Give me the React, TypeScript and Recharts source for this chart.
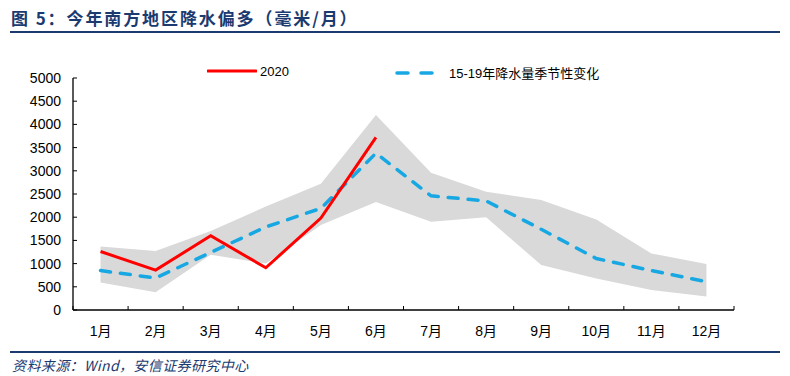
import React from "react";
import {
    ComposedChart,
    XAxis,
    YAxis,
    Area,
    Line,
} from "recharts";

const months = ["1月", "2月", "3月", "4月", "5月", "6月", "7月", "8月", "9月", "10月", "11月", "12月"];
const rain2020: (number | null)[] = [1260, 860, 1600, 910, 1980, 3720, null, null, null, null, null, null];
const avg1519 = [850, 690, 1240, 1790, 2190, 3380, 2460, 2350, 1740, 1110, 850, 610];
const bandLow = [590, 380, 1190, 1000, 1830, 2330, 1900, 2000, 970, 680, 430, 290];
const bandHigh = [1370, 1270, 1700, 2230, 2720, 4200, 2960, 2550, 2370, 1950, 1220, 990];
const yTicks = [0, 500, 1000, 1500, 2000, 2500, 3000, 3500, 4000, 4500, 5000];

const data = months.map((m, i) => ({
    month: m,
    y2020: rain2020[i],
    avg: avg1519[i],
    range: [bandLow[i], bandHigh[i]],
}));

const NAVY = "#1b3a70";
const RED = "#ff0000";
const BLUE = "#17a8e3";
const FONT = "'Liberation Sans', Arial, 'Noto Sans CJK SC', sans-serif";

const YTick = (props: any) => {
    const { x, y, payload } = props;
    return (
        <g>
            <line x1={x + 12} x2={x + 16} y1={y} y2={y} stroke="#000" />
            <text x={x} y={y} dy={5} textAnchor="end" fontSize={14} fill="#000" fontFamily={FONT}>
                {payload.value}
            </text>
        </g>
    );
};

const XTick = (props: any) => {
    const { x, y, payload, width, visibleTicksCount, index } = props;
    const band = width / visibleTicksCount;
    const axisY = y - 14;
    return (
        <g>
            <line x1={x - band / 2} x2={x - band / 2} y1={axisY} y2={axisY - 4} stroke="#000" />
            {index === visibleTicksCount - 1 && (
                <line x1={x + band / 2} x2={x + band / 2} y1={axisY} y2={axisY - 4} stroke="#000" />
            )}
            <text x={x} y={y} dy={12} textAnchor="middle" fontSize={14} fill="#000" fontFamily={FONT}>
                {payload.value}
            </text>
        </g>
    );
};

export default function App() {
    return (
        <div style={{ position: "absolute", left: 0, top: 0, width: 790, height: 376, background: "#fff", fontFamily: FONT }}>
            {/* 标题 */}
            <div
                style={{
                    position: "absolute",
                    left: 11,
                    top: 5,
                    fontSize: 17,
                    fontWeight: "bold",
                    color: NAVY,
                    letterSpacing: 1.9,
                    fontFamily: "'Noto Sans CJK SC', sans-serif",
                    whiteSpace: "nowrap",
                }}
            >
                图 5：今年南方地区降水偏多（毫米/月）
            </div>
            <div style={{ position: "absolute", left: 10, top: 31, width: 770, height: 1.5, background: NAVY }} />

            {/* 图例 */}
            <div style={{ position: "absolute", left: 207, top: 63, display: "flex", alignItems: "center", fontSize: 13, color: "#000" }}>
                <svg width={50} height={16}>
                    <line x1={1} x2={49} y1={8} y2={8} stroke={RED} strokeWidth={3} strokeLinecap="round" />
                </svg>
                <span style={{ marginLeft: 3 }}>2020</span>
            </div>
            <div style={{ position: "absolute", left: 394, top: 63, display: "flex", alignItems: "center", fontSize: 13, color: "#000" }}>
                <svg width={44} height={16}>
                    <line x1={3} x2={42} y1={8} y2={8} stroke={BLUE} strokeWidth={3.5} strokeLinecap="round" strokeDasharray="11 13" />
                </svg>
                <span style={{ marginLeft: 11 }}>15-19年降水量季节性变化</span>
            </div>

            <div style={{ position: "absolute", left: 0, top: 0 }}>
                <ComposedChart
                    width={790}
                    height={376}
                    data={data}
                    margin={{ top: 78, right: 56, bottom: 36, left: 0 }}
                >
                    <XAxis
                        dataKey="month"
                        scale="band"
                        interval={0}
                        height={30}
                        tickSize={0}
                        tickMargin={14}
                        axisLine={{ stroke: "#000", strokeWidth: 1.3 }}
                        tick={<XTick />}
                    />
                    <YAxis
                        width={73}
                        domain={[0, 5000]}
                        ticks={yTicks}
                        interval={0}
                        tickSize={0}
                        tickMargin={12}
                        axisLine={{ stroke: "#000", strokeWidth: 1.3 }}
                        tick={<YTick />}
                    />
                    <Area
                        dataKey="range"
                        type="linear"
                        stroke="none"
                        fill="#d9d9d9"
                        fillOpacity={1}
                        isAnimationActive={false}
                        activeDot={false}
                    />
                    <Line
                        dataKey="avg"
                        type="linear"
                        stroke={BLUE}
                        strokeWidth={3.5}
                        strokeDasharray="10 10"
                        strokeLinecap="round"
                        dot={false}
                        activeDot={false}
                        isAnimationActive={false}
                    />
                    <Line
                        dataKey="y2020"
                        type="linear"
                        stroke={RED}
                        strokeWidth={3}
                        dot={false}
                        activeDot={false}
                        connectNulls={false}
                        isAnimationActive={false}
                    />
                </ComposedChart>
            </div>

            {/* 资料来源 */}
            <div style={{ position: "absolute", left: 10, top: 351, width: 770, height: 1.5, background: NAVY }} />
            <div
                style={{
                    position: "absolute",
                    left: 12,
                    top: 355,
                    fontSize: 14,
                    letterSpacing: 0.4,
                    fontStyle: "italic",
                    color: NAVY,
                    fontFamily: "'Noto Sans CJK SC', 'Liberation Sans', sans-serif",
                    whiteSpace: "nowrap",
                }}
            >
                资料来源：Wind，安信证券研究中心
            </div>
        </div>
    );
}
